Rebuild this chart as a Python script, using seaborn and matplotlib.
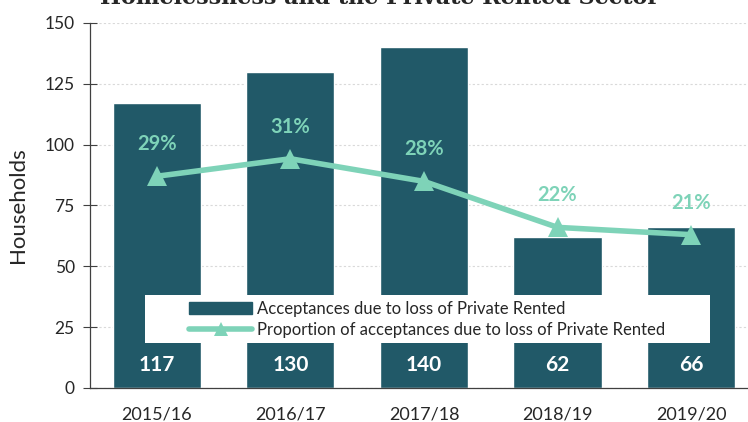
import matplotlib.pyplot as plt
import matplotlib.lines as mlines
import matplotlib.patches as mpatches
import pandas as pd
import seaborn as sns

YEARS = ["2015/16", "2016/17", "2017/18", "2018/19", "2019/20"]
ACCEPTANCES = [117, 130, 140, 62, 66]
PROPORTION = [0.29, 0.314, 0.283, 0.22, 0.21]
PCT_LABELS = ["29%", "31%", "28%", "22%", "21%"]

BAR_COLOR = "#215968"
LINE_COLOR = "#7ED3B8"

sns.set_theme(style="white")
plt.rcParams["font.family"] = ["Lato", "DejaVu Sans"]

df = pd.DataFrame({"year": YEARS, "acc": ACCEPTANCES, "prop": PROPORTION})

fig = plt.figure(figsize=(7.48, 4.22), dpi=100)
ax = fig.add_axes([0.1203, 0.0806, 0.893, 0.865])

ax.yaxis.grid(True, color="#d9d9d9", linestyle=(0, (2, 2)), linewidth=0.8)
ax.set_axisbelow(True)

sns.barplot(data=df, x="year", y="acc", color=BAR_COLOR, width=0.66,
            saturation=1, ax=ax)
ax.set_xlim(-0.5, 4.5)
ax.set_ylim(0, 150)
ax.set_yticks([0, 25, 50, 75, 100, 125, 150])
ax.set_xlabel("")
ax.set_ylabel("Households", fontsize=16, labelpad=12)
ax.tick_params(axis="y", labelsize=12.5, direction="inout", length=10,
               width=0.8, color="#404040", pad=6)
ax.tick_params(axis="x", which="major", labelsize=13, length=0, pad=13)
ax.set_xticks([-0.5, 0.5, 1.5, 2.5, 3.5], minor=True)
ax.tick_params(axis="x", which="minor", direction="inout", length=12,
               width=0.8, color="#404040")
for s in ["top", "right"]:
    ax.spines[s].set_visible(False)
for s in ["left", "bottom"]:
    ax.spines[s].set_color("#404040")
    ax.spines[s].set_linewidth(0.9)

for i, v in enumerate(ACCEPTANCES):
    ax.text(i, 9.5, str(v), ha="center", va="center", color="white",
            fontsize=15, fontweight="bold")

ax2 = ax.twinx()
sns.lineplot(x=list(range(len(YEARS))), y=PROPORTION, ax=ax2, color=LINE_COLOR,
             linewidth=4, marker="^", markersize=14, markeredgewidth=0)
ax2.set_ylim(0, 0.5)
ax2.set_xlim(-0.5, 4.5)
ax2.axis("off")
for i, (p, lab) in enumerate(zip(PROPORTION, PCT_LABELS)):
    ax2.annotate(lab, (i, p), xytext=(0, 23), textcoords="offset points",
                 ha="center", va="center", color=LINE_COLOR, fontsize=14.5,
                 fontweight="bold")

# white box behind the legend, wider than the legend itself
box = mpatches.Rectangle((145 / 748, 1 - 343 / 422), 565 / 748, 48 / 422,
                         transform=fig.transFigure, facecolor="white",
                         edgecolor="none", zorder=5)
fig.add_artist(box)

handles = [
    mpatches.Patch(color=BAR_COLOR, label="Acceptances due to loss of Private Rented"),
    mlines.Line2D([], [], color=LINE_COLOR, linewidth=4, marker="^",
                  markersize=10, markeredgewidth=0,
                  label="Proportion of acceptances due to loss of Private Rented"),
]
leg = fig.legend(handles=handles, loc="center", bbox_to_anchor=(0.571, 0.244),
                 frameon=False, fontsize=12, handlelength=3.8,
                 handletextpad=0.3, labelspacing=0.3, borderpad=0.3)
leg.set_zorder(6)

fig.text(0.508, 0.99, "Homelessness and the Private Rented Sector",
         ha="center", va="baseline", fontsize=16, fontweight="bold",
         family=["DejaVu Serif"])

fig.savefig("out.png", dpi=100)
